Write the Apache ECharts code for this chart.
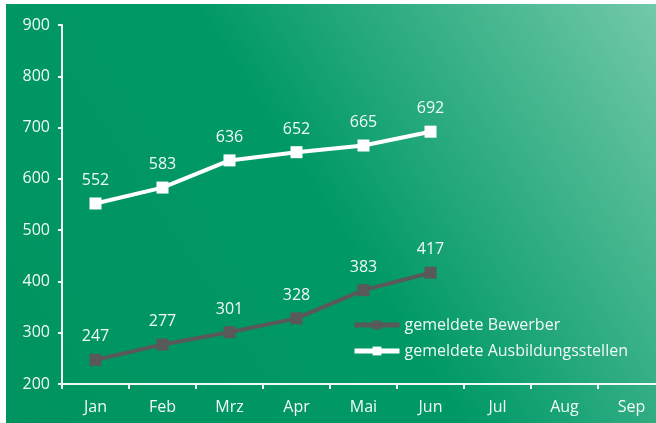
<!DOCTYPE html>
<html>
<head>
<meta charset="utf-8">
<script src="https://cdn.jsdelivr.net/npm/echarts@6/dist/echarts.min.js"></script>
<style>
  html, body { margin: 0; padding: 0; background: #fff; }
  #wrap { position: relative; width: 656px; height: 423px; background: #fff; overflow: hidden; }
  #chart { position: absolute; left: 6px; top: 4px; width: 670px; height: 419px; }
</style>
</head>
<body>
<div id="wrap"><div id="chart"></div></div>
<script>
  var months = ['Jan', 'Feb', 'Mrz', 'Apr', 'Mai', 'Jun', 'Jul', 'Aug', 'Sep']
  var bewerber = [247, 277, 301, 328, 383, 417]
  var stellen = [552, 583, 636, 652, 665, 692]
  var fontFamily = '"Open Sans", "Noto Sans", sans-serif'
  var white = '#f2faf6'

  var chart = echarts.init(document.getElementById('chart'))

  var lineSeries = function(name, data, color) {
    return {
      name: name,
      type: 'line',
      data: data,
      symbol: 'rect',
      symbolSize: 12,
      lineStyle: { color: color, width: 4 },
      itemStyle: { color: color },
      label: {
        show: true,
        position: 'top',
        distance: 9,
        color: white,
        fontSize: 16,
        fontFamily: fontFamily,
      },
      z: 3,
    }
  }

  chart.setOption({
    animation: false,
    backgroundColor: {
      type: 'linear',
      x: 0, y: 1, x2: 0.97, y2: 0,
      colorStops: [
        { offset: 0, color: '#00935f' },
        { offset: 0.5, color: '#009966' },
        { offset: 1, color: '#72c9a9' },
      ],
    },
    grid: { left: 56, right: 11, top: 21, bottom: 39 },
    legend: {
      orient: 'vertical',
      left: 341,
      top: 308,
      itemWidth: 45,
      itemHeight: 11,
      itemGap: 10,
      lineStyle: { width: 5 },
      textStyle: { color: white, fontSize: 16, fontFamily: fontFamily },
      data: ['gemeldete Bewerber', 'gemeldete Ausbildungsstellen'],
    },
    xAxis: {
      type: 'category',
      data: months,
      boundaryGap: true,
      axisLine: { lineStyle: { color: white, width: 2 } },
      axisTick: { show: true, length: 5, lineStyle: { color: white, width: 2 } },
      axisLabel: { color: white, fontSize: 16, fontFamily: fontFamily, margin: 15 },
    },
    yAxis: {
      type: 'value',
      min: 200,
      max: 900,
      interval: 100,
      splitLine: { show: false },
      axisLine: { show: true, lineStyle: { color: white, width: 2 } },
      axisTick: { show: true, length: 4, lineStyle: { color: white, width: 2 } },
      axisLabel: { color: white, fontSize: 16, fontFamily: fontFamily, margin: 12 },
    },
    series: [
      lineSeries('gemeldete Bewerber', bewerber, '#595959'),
      lineSeries('gemeldete Ausbildungsstellen', stellen, '#ffffff'),
    ],
  })
</script>
</body>
</html>
